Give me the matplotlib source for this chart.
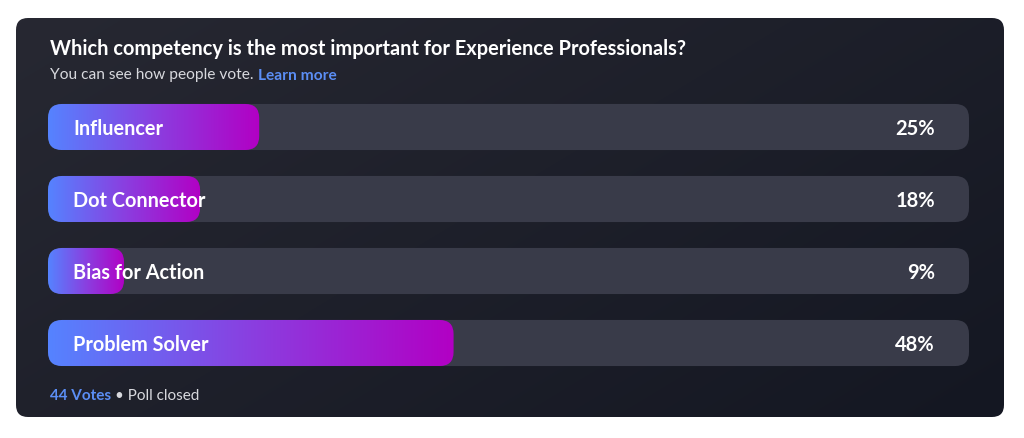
#!/usr/bin/env python3
"""
Poll results card: which competency matters most
"""

import numpy as np
import matplotlib.pyplot as plt
from matplotlib.patches import FancyBboxPatch
from matplotlib.colors import LinearSegmentedColormap
import matplotlib.transforms as mtransforms

# Data
options = ['Influencer', 'Dot Connector', 'Bias for Action', 'Problem Solver']
shares = [25, 18, 9, 48]
pct_labels = ['25%', '18%', '9%', '48%']
title = 'Which competency is the most important for Experience Professionals?'
subtitle = 'You can see how people vote.'
link_text = 'Learn more'
votes_text = '44 Votes'
status_text = '• Poll closed'

TRACK_MAX = 109  # data units spanned by the grey track

plt.rcParams['font.family'] = ['Lato', 'DejaVu Sans']

W, H = 1024, 438
fig = plt.figure(figsize=(W / 100, H / 100), dpi=100, facecolor='white')

def fx(px):
    return px / W

def fy(py):
    return 1 - py / H

# Card background with a soft diagonal gradient
card_ax = fig.add_axes([0, 0, 1, 1])
card_ax.set_xlim(0, W)
card_ax.set_ylim(H, 0)
card_ax.axis('off')
card = FancyBboxPatch((16, 18), 988, 399, boxstyle='round,pad=0,rounding_size=12',
                      facecolor='none', edgecolor='none')
card_ax.add_patch(card)
gx, gy = np.meshgrid(np.linspace(0, 1, 200), np.linspace(0, 1, 100))
g = (gx * 0.6 + gy * 0.4)
card_cmap = LinearSegmentedColormap.from_list('card', ['#272832', '#141722'])
im = card_ax.imshow(g, cmap=card_cmap, extent=(16, 1004, 417, 18), aspect='auto',
                    interpolation='bilinear', zorder=0)
im.set_clip_path(card)

# Bars axes
ax = fig.add_axes([fx(48), fy(379), fx(969) - fx(48), (379 - 91) / H])
ax.set_xlim(0, TRACK_MAX)
ax.set_ylim(len(options) - 0.5, -0.5)
ax.axis('off')
ax.patch.set_alpha(0)

bar_h = 0.64
px_per_x = 921 / TRACK_MAX
px_per_y = 72
radius_px = 14
r_x = radius_px / px_per_x
aspect = (1 / px_per_y) / (1 / px_per_x)

bar_cmap = LinearSegmentedColormap.from_list('bar', ['#5583FF', '#8A3FE0', '#B200C4'])
grad = np.linspace(0, 1, 256).reshape(1, -1)

for i, (name, val, lab) in enumerate(zip(options, shares, pct_labels)):
    track = FancyBboxPatch((0, i - bar_h / 2), TRACK_MAX, bar_h,
                           boxstyle=f'round,pad=0,rounding_size={r_x}',
                           mutation_aspect=aspect, facecolor='#393b49',
                           edgecolor='none', zorder=1)
    ax.add_patch(track)
    fill = FancyBboxPatch((0, i - bar_h / 2), val, bar_h,
                          boxstyle=f'round,pad=0,rounding_size={r_x}',
                          mutation_aspect=aspect, facecolor='none',
                          edgecolor='none', zorder=2)
    ax.add_patch(fill)
    gim = ax.imshow(grad, cmap=bar_cmap, extent=(0, val, i + bar_h / 2, i - bar_h / 2),
                    aspect='auto', interpolation='bilinear', zorder=2)
    gim.set_clip_path(fill)

    lab_tr = mtransforms.offset_copy(ax.transData, fig=fig, x=25, y=0, units='dots')
    ax.text(0, i, name, transform=lab_tr, ha='left', va='center_baseline',
            color='white', fontsize=14.3, fontweight='bold', zorder=3)
    pct_tr = mtransforms.offset_copy(ax.transData, fig=fig, x=-34, y=0, units='dots')
    ax.text(TRACK_MAX, i, lab, transform=pct_tr, ha='right', va='center_baseline',
            color='white', fontsize=14.5, fontweight='bold', zorder=3)

ax.set_xlim(0, TRACK_MAX)
ax.set_ylim(len(options) - 0.5, -0.5)

# Header and footer texts
renderer = fig.canvas.get_renderer()
fig.text(fx(50), fy(47), title, ha='left', va='center_baseline', color='white',
         fontsize=14.4, fontweight='bold')
t_sub = fig.text(fx(50), fy(74), subtitle + ' ', ha='left', va='center_baseline',
                 color='#d8d9de', fontsize=11.2)
bb = t_sub.get_window_extent(renderer)
fig.text(bb.x1 / W, fy(74), link_text, ha='left', va='center_baseline',
         color='#5b8ef5', fontsize=11.2, fontweight='bold')

t_v = fig.text(fx(50), fy(395), votes_text + ' ', ha='left', va='center_baseline',
               color='#5b8ef5', fontsize=11, fontweight='bold')
bb = t_v.get_window_extent(renderer)
fig.text(bb.x1 / W, fy(395), status_text, ha='left', va='center_baseline',
         color='#d8d9de', fontsize=11)

plt.savefig('out.png', dpi=100, facecolor='white')
plt.close()
